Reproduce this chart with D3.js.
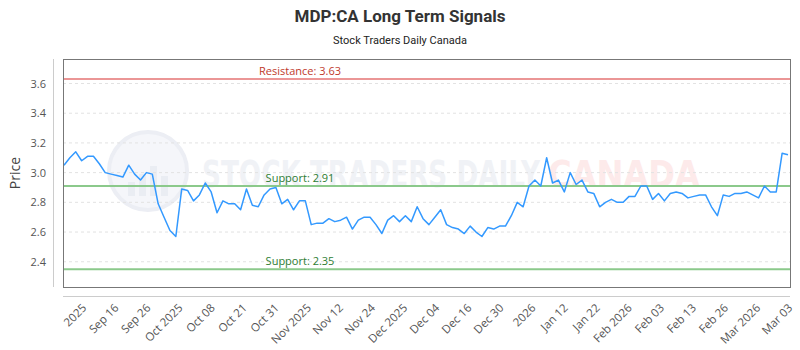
<!DOCTYPE html>
<html>
<head>
<meta charset="utf-8">
<script src="https://cdnjs.cloudflare.com/ajax/libs/d3/7.8.5/d3.min.js"></script>
<style>
	body { margin:0; background:#fff; }
	svg { display:block; }
</style>
</head>
<body>
<svg id="chart" width="800" height="350"></svg>
<script>

var prices = [
	3.05,3.10,3.14,3.08,3.11,3.11,3.06,3.00,2.99,2.98,
	2.97,3.05,2.99,2.95,3.00,2.99,2.79,2.70,2.61,2.57,
	2.89,2.88,2.81,2.85,2.93,2.87,2.73,2.81,2.79,2.79,
	2.75,2.89,2.78,2.77,2.85,2.89,2.90,2.79,2.82,2.75,
	2.81,2.81,2.65,2.66,2.66,2.69,2.67,2.68,2.70,2.62,
	2.68,2.70,2.70,2.65,2.59,2.68,2.71,2.67,2.71,2.67,
	2.77,2.69,2.65,2.70,2.75,2.65,2.63,2.62,2.59,2.64,
	2.60,2.57,2.63,2.62,2.64,2.64,2.71,2.80,2.77,2.91,
	2.95,2.91,3.10,2.93,2.95,2.87,3.00,2.92,2.95,2.87,
	2.86,2.77,2.80,2.82,2.80,2.80,2.84,2.84,2.91,2.91,
	2.82,2.86,2.81,2.86,2.87,2.86,2.83,2.84,2.85,2.85,
	2.77,2.71,2.85,2.84,2.86,2.86,2.87,2.85,2.83,2.91,
	2.87,2.87,3.13,3.12
];

var tickLabels = ['2025','Sep 16','Sep 26','Oct 2025','Oct 08','Oct 21','Oct 31','Nov 2025','Nov 12','Nov 24',
	'Dec 2025','Dec 04','Dec 16','Dec 30','2026','Jan 12','Jan 22','Feb 2026','Feb 03','Feb 13','Feb 26',
	'Mar 2026','Mar 03'];

var yTicks = [2.4, 2.6, 2.8, 3.0, 3.2, 3.4, 3.6];

var levels = [
	{name:'Resistance', value:3.63},
	{name:'Support', value:2.91},
	{name:'Support', value:2.35}
];

// plot box
var pLeft = 63, pRight = 790, pTop = 59, pBottom = 287;
var svg = d3.select('#chart');

// title
svg.append('text')
	.attr('x', 400).attr('y', 22)
	.attr('text-anchor', 'middle')
	.style('font-family', 'Roboto')
	.style('font-weight', 'bold')
	.style('font-size', '17px')
	.style('fill', '#333')
	.text('MDP:CA Long Term Signals');

svg.append('text')
	.attr('x', 400).attr('y', 44)
	.attr('text-anchor', 'middle')
	.style('font-family', 'Roboto')
	.style('font-size', '11px')
	.style('fill', '#222')
	.text('Stock Traders Daily Canada');

var x = d3.scaleLinear().domain([0, prices.length-1]).range([pLeft+1, pRight-2]);
var y = d3.scaleLinear().domain([2.23, 3.765]).range([pBottom, pTop]);
var xt = d3.scalePoint().domain(tickLabels).range([81, 787]);

// watermark
var wm = svg.append('g').attr('class', 'watermark');
wm.append('circle')
	.attr('cx', 148).attr('cy', 171).attr('r', 39)
	.style('fill', '#f5f6fa')
	.style('stroke', '#eceef4')
	.style('stroke-width', 4);
wm.selectAll('rect')
	.data([14, 22, 30, 20])
	.enter()
	.append('rect')
	.attr('x', function(d, i){ return 128 + i*11; })
	.attr('y', function(d){ return 196 - d; })
	.attr('width', 7)
	.attr('height', function(d){ return d; })
	.style('fill', '#eaedf3');
wm.append('text')
	.attr('x', 202).attr('y', 187)
	.attr('textLength', 338)
	.attr('lengthAdjust', 'spacingAndGlyphs')
	.style('font-family', 'DejaVu Sans')
	.style('font-weight', 'bold')
	.style('font-size', '38px')
	.style('fill', '#f0f2f6')
	.text('STOCK TRADERS DAILY');
wm.append('text')
	.attr('x', 548).attr('y', 187)
	.attr('textLength', 152)
	.attr('lengthAdjust', 'spacingAndGlyphs')
	.style('font-family', 'DejaVu Sans')
	.style('font-weight', 'bold')
	.style('font-size', '38px')
	.style('fill', '#fdeaea')
	.text('CANADA');

// grid
svg.append('g')
	.selectAll('line')
	.data(yTicks)
	.enter()
	.append('line')
	.attr('x1', pLeft).attr('x2', pRight)
	.attr('y1', function(d){ return y(d); })
	.attr('y2', function(d){ return y(d); })
	.style('stroke', '#e2e2e2')
	.style('stroke-dasharray', '3,3');

// outer guide lines
svg.append('line')
	.attr('x1', 53.5).attr('x2', 53.5)
	.attr('y1', pTop).attr('y2', pBottom)
	.style('stroke', '#ccc');
svg.append('line')
	.attr('x1', pLeft).attr('x2', pRight)
	.attr('y1', 296.5).attr('y2', 296.5)
	.style('stroke', '#ccc');

// y axis
var yAxis = svg.append('g')
	.attr('transform', 'translate(' + pLeft + ',0)')
	.call(d3.axisLeft(y).tickValues(yTicks).tickFormat(d3.format('.1f')).tickSize(0).tickPadding(17));
yAxis.select('.domain').remove();
yAxis.selectAll('text')
	.style('font-family', 'Open Sans')
	.style('font-size', '11px')
	.style('fill', '#555');

svg.append('text')
	.attr('transform', 'translate(20,' + (pTop+pBottom)/2 + ') rotate(-90)')
	.attr('text-anchor', 'middle')
	.style('font-family', 'Open Sans')
	.style('font-size', '14px')
	.style('fill', '#444')
	.text('Price');

// x axis
var xAxis = svg.append('g')
	.attr('transform', 'translate(0,303)')
	.call(d3.axisBottom(xt).tickSize(0).tickPadding(0));
xAxis.select('.domain').remove();
xAxis.selectAll('text')
	.attr('text-anchor', 'end')
	.attr('dy', '0.7em')
	.attr('transform', 'rotate(-45)')
	.style('font-family', 'Open Sans')
	.style('font-size', '11.5px')
	.style('fill', '#555');

// support / resistance
var lv = svg.append('g').selectAll('g')
	.data(levels)
	.enter()
	.append('g');
lv.append('line')
	.attr('x1', pLeft).attr('x2', pRight)
	.attr('y1', function(d){ return y(d.value); })
	.attr('y2', function(d){ return y(d.value); })
	.style('stroke', function(d){ return d.name == 'Resistance' ? '#e57373' : '#8bc98b'; })
	.style('stroke-width', function(d){ return d.name == 'Resistance' ? 1.5 : 2; });
lv.append('text')
	.attr('x', 300)
	.attr('y', function(d){ return y(d.value) - 4; })
	.attr('text-anchor', 'middle')
	.style('font-family', 'Open Sans')
	.style('font-size', '11px')
	.style('fill', function(d){ return d.name == 'Resistance' ? '#c0392b' : '#2e7d32'; })
	.text(function(d){ return d.name + ': ' + d.value.toFixed(2); });

// price line
var line = d3.line()
	.x(function(d, i){ return x(i); })
	.y(function(d){ return y(d); });

svg.append('path')
	.datum(prices)
	.attr('d', line)
	.style('fill', 'none')
	.style('stroke', '#3399ff')
	.style('stroke-width', 1.5)
	.style('stroke-linejoin', 'round');

// plot frame
svg.append('rect')
	.attr('x', pLeft + 0.5).attr('y', pTop + 0.5)
	.attr('width', pRight - pLeft).attr('height', pBottom - pTop)
	.style('fill', 'none')
	.style('stroke', '#777');

</script>
</body>
</html>
